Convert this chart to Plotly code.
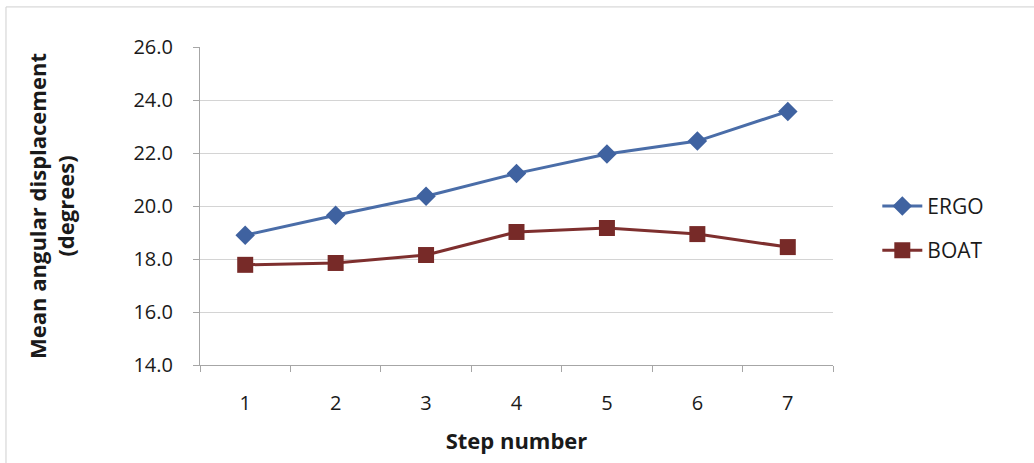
import plotly.graph_objects as go

steps = ["1", "2", "3", "4", "5", "6", "7"]
ergo = [18.9, 19.65, 20.37, 21.23, 21.96, 22.45, 23.57]
boat = [17.78, 17.85, 18.15, 19.02, 19.17, 18.94, 18.45]

y_ticks = [14, 16, 18, 20, 22, 24, 26]

font_family = "Open Sans, Lato, DejaVu Sans, sans-serif"

fig = go.Figure()
fig.add_trace(go.Scatter(
    x=steps, y=ergo, name="ERGO", mode="lines+markers", legendgroup="ergo",
    line=dict(color="#4A6DA8", width=3),
    marker=dict(symbol="diamond", size=15, color="#3F62A0"),
))
fig.add_trace(go.Scatter(
    x=steps, y=boat, name="BOAT", mode="lines+markers", legendgroup="boat",
    line=dict(color="#7E2F2E", width=3),
    marker=dict(symbol="square", size=16, color="#772A28"),
))

fig.update_layout(
    width=1034, height=463,
    margin=dict(l=200, r=201, t=47, b=98, autoexpand=False),
    paper_bgcolor="white", plot_bgcolor="white",
    font=dict(family=font_family, color="#1a1a1a"),
    showlegend=True,
    legend=dict(
        x=1.07, y=0.43, xanchor="left", yanchor="middle",
        font=dict(size=21, color="#1a1a1a"),
        bgcolor="rgba(0,0,0,0)", tracegroupgap=14, itemwidth=40,
    ),
    shapes=[dict(
        type="rect", xref="paper", yref="paper",
        x0=-0.3065, x1=1.34, y0=-0.35, y1=1.126,
        line=dict(color="#cfcfcf", width=1), fillcolor="rgba(0,0,0,0)",
    )],
)

fig.update_xaxes(
    type="category", tickson="boundaries",
    range=[-0.5, 6.5], automargin=False,
    showline=True, linecolor="#a6a6a6", linewidth=1,
    ticks="outside", ticklen=6, tickcolor="#a6a6a6",
    showgrid=False, ticklabelstandoff=20,
    tickfont=dict(size=20),
    title=dict(text="<b>Step number</b>", font=dict(size=22), standoff=18),
)
fig.update_yaxes(
    range=[14, 26], tickvals=y_ticks, tickformat=".1f", automargin=False,
    showline=True, linecolor="#a6a6a6", linewidth=1,
    ticks="outside", ticklen=6, tickcolor="#a6a6a6",
    showgrid=True, gridcolor="#d4d4d4", gridwidth=1,
    zeroline=False, ticklabelstandoff=16,
    tickfont=dict(size=20),
    title=dict(text="<b>Mean angular displacement<br>(degrees)</b>",
               font=dict(size=22), standoff=52),
)

fig.write_html("out.html", config={"displayModeBar": False},
               post_script="document.body.style.margin='0';")
